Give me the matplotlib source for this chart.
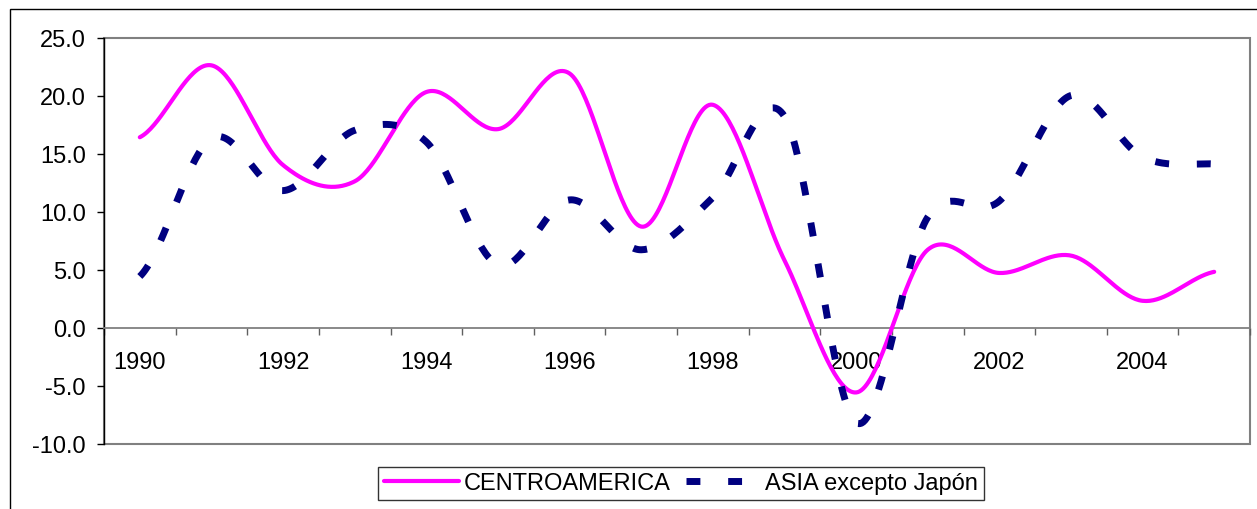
#!/usr/bin/env python3
import numpy as np
import matplotlib
matplotlib.use('Agg')
import matplotlib.pyplot as plt
from matplotlib.patches import Rectangle
from matplotlib.ticker import FixedLocator, FormatStrFormatter

plt.rcParams['font.family'] = ['Liberation Sans', 'DejaVu Sans']
plt.rcParams['axes.unicode_minus'] = False

years = list(range(1990, 2006))
centroamerica = [16.4, 22.6, 14.0, 12.6, 20.3, 17.1, 21.9, 8.7,
                 19.2, 5.8, -5.6, 6.7, 4.7, 6.2, 2.3, 4.8]
asia = [4.4, 16.3, 11.8, 17.0, 16.0, 5.4, 11.0, 6.7,
        11.2, 18.2, -8.2, 9.5, 10.9, 20.0, 14.7, 14.1]
year_labels = [str(y) for y in years[::2]]


def smooth(xs, ys, n=40):
    # catmull-rom through every point, like the spreadsheet "smoothed line"
    xs = np.asarray(xs, float)
    ys = np.asarray(ys, float)
    p = np.r_[ys[0], ys, ys[-1]]
    m = (p[2:] - p[:-2]) / 2.0
    out_x, out_y = [], []
    for i in range(len(ys) - 1):
        t = np.linspace(0, 1, n, endpoint=False)
        h00 = 2*t**3 - 3*t**2 + 1
        h10 = t**3 - 2*t**2 + t
        h01 = -2*t**3 + 3*t**2
        h11 = t**3 - t**2
        out_y.extend(h00*ys[i] + h10*m[i] + h01*ys[i+1] + h11*m[i+1])
        out_x.extend(xs[i] + t*(xs[i+1] - xs[i]))
    out_x.append(xs[-1])
    out_y.append(ys[-1])
    return np.array(out_x), np.array(out_y)


fig = plt.figure(figsize=(12.57, 5.10), dpi=100)
ax = fig.add_axes([104/1257, 1 - 444.5/510, (1250-104)/1257, (444.5-38.5)/510])

cx, cy = smooth(years, centroamerica)
ax.plot(cx, cy, color='#FF00FF', lw=3, solid_capstyle='round',
        label='CENTROAMERICA', zorder=3)
axx, ayy = smooth(years, asia)
ax.plot(axx, ayy, color='#000080', lw=5, linestyle=(0, (2, 4)),
        dash_capstyle='butt', label='ASIA excepto Japón', zorder=3)

ax.set_xlim(1989.5, 2005.5)
ax.set_ylim(-10, 25)
ax.set_yticks(np.arange(-10, 26, 5))
ax.yaxis.set_major_formatter(FormatStrFormatter('%.1f'))

# category axis sits on zero, ticks between categories
ax.spines['bottom'].set_position(('data', 0))
ax.spines['bottom'].set_color('#808080')
ax.spines['bottom'].set_linewidth(1.3)
ax.spines['top'].set_visible(False)
ax.spines['right'].set_visible(False)
ax.spines['left'].set_color('black')
ax.spines['left'].set_linewidth(1.0)
ax.add_patch(Rectangle((0, 0), 1, 1, transform=ax.transAxes, fill=False,
                       edgecolor='#808080', lw=1.5, clip_on=False, zorder=0.5))

ax.xaxis.set_major_locator(FixedLocator(years[::2]))
ax.set_xticklabels(year_labels)
ax.xaxis.set_minor_locator(FixedLocator(np.arange(1989.5, 2006, 1.0)))
ax.tick_params(axis='x', which='major', length=0, pad=17, labelsize=17)
ax.tick_params(axis='x', which='minor', length=5, width=1, color='#606060',
               direction='out')
ax.tick_params(axis='y', length=5, width=1, color='black', pad=8,
               labelsize=17)

leg = fig.legend(loc='center', bbox_to_anchor=(681/1257, 1 - 484.5/510),
                 ncol=2, fontsize=17, frameon=True, fancybox=False,
                 edgecolor='black', handlelength=3.2, handletextpad=0.18,
                 columnspacing=0.65, borderpad=0.25)
leg.get_frame().set_linewidth(1.0)

# outer chart border
fig.patches.append(Rectangle((10/1257, -0.05), 1.05, 1.05 - 10/510,
                             transform=fig.transFigure, fill=False,
                             edgecolor='black', lw=1.0))

fig.savefig('out.png', dpi=100)
